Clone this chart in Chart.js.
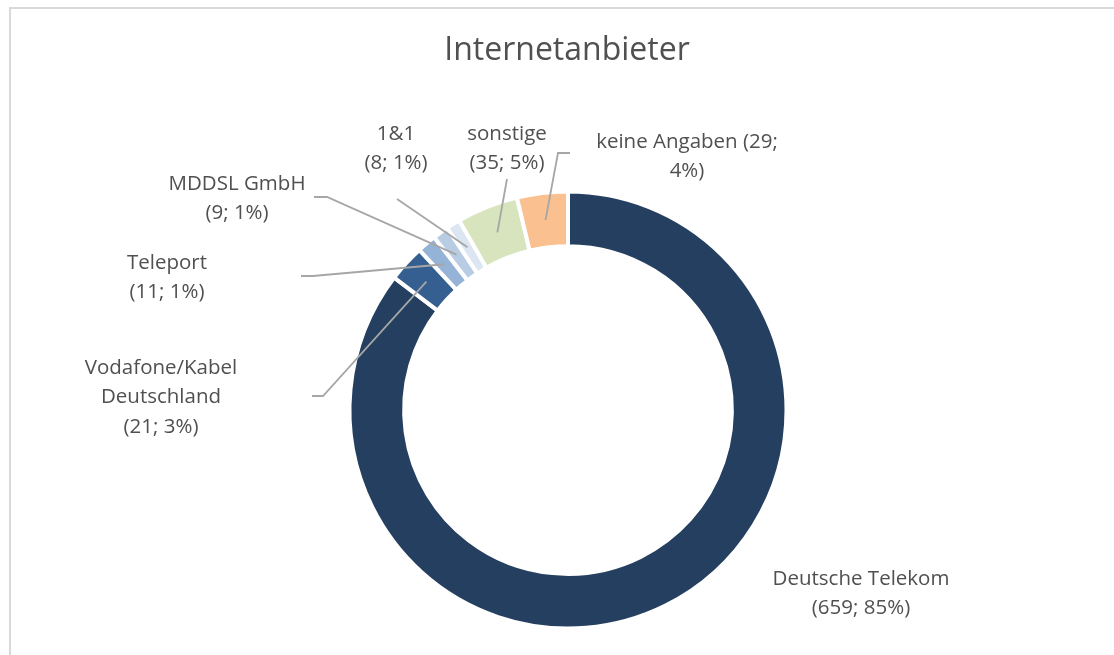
<!DOCTYPE html>
<html>
<head>
<meta charset="utf-8">
<script src="https://cdn.jsdelivr.net/npm/chart.js@4.4.1/dist/chart.umd.min.js"></script>
<style>
  html, body { margin: 0; padding: 0; background: #fff; overflow: hidden; }
  #frame {
    position: absolute; left: 9px; top: 7px; width: 1200px; height: 700px;
    border: 2px solid #d9d9d9; box-sizing: border-box;
  }
  #wrap { position: absolute; left: 0; top: 0; width: 1114px; height: 655px; }
</style>
</head>
<body>
<div id="frame"></div>
<div id="wrap"><canvas id="chart"></canvas></div>
<script>
// Data
const chartTitle = "Internetanbieter";
const providers = [
  "Deutsche Telekom",
  "Vodafone/Kabel Deutschland",
  "Teleport",
  "MDDSL GmbH",
  "1&1",
  "sonstige",
  "keine Angaben",
];
const counts = [659, 21, 11, 9, 8, 35, 29];
const sliceColors = ["#243f60", "#355f91", "#95b3d7", "#b8cce4", "#dce6f2", "#d7e4bd", "#fac090"];

// Label text lines (as Excel wrapped them)
const labelLines = [
  ["Deutsche Telekom", "(659; 85%)"],
  ["Vodafone/Kabel", "Deutschland", "(21; 3%)"],
  ["Teleport", "(11; 1%)"],
  ["MDDSL GmbH", "(9; 1%)"],
  ["1&1", "(8; 1%)"],
  ["sonstige", "(35; 5%)"],
  ["keine Angaben (29;", "4%)"],
];

// Label placement: text centre x, first line y, leader end / elbow
const labelLayout = [
  { x: 861, y: 579, leader: null },
  { x: 161, y: 368, leader: [[323, 396], [312, 396]] },
  { x: 167, y: 263, leader: [[313, 276], [301, 276]] },
  { x: 237, y: 184, leader: [[327, 197], [314, 197]] },
  { x: 396, y: 134, leader: [[397, 199]] },
  { x: 507, y: 134, leader: [[507, 179]] },
  { x: 687, y: 142, leader: [[558, 153], [570, 153]] },
];

const textColor = "#505050";
const lineHeight = 29.5;

// Draws title, data labels and leader lines
const labelPlugin = {
  id: "pieLabels",
  afterDraw(chart) {
    const ctx = chart.ctx;
    const arcs = chart.getDatasetMeta(0).data;
    ctx.save();
    ctx.strokeStyle = "#a6a6a6";
    ctx.lineWidth = 1.8;
    arcs.forEach((arc, i) => {
      const lay = labelLayout[i];
      if (!lay.leader) return;
      const start = arc.tooltipPosition();
      ctx.beginPath();
      ctx.moveTo(start.x, start.y);
      lay.leader.forEach((p) => ctx.lineTo(p[0], p[1]));
      ctx.stroke();
    });
    ctx.fillStyle = textColor;
    ctx.textAlign = "center";
    ctx.textBaseline = "middle";
    ctx.font = "32px 'Open Sans'";
    ctx.fillText(chartTitle, 567, 51);
    ctx.font = "20.5px 'Open Sans'";
    labelLines.forEach((lines, i) => {
      const lay = labelLayout[i];
      lines.forEach((t, k) => ctx.fillText(t, lay.x, lay.y + k * lineHeight));
    });
    ctx.restore();
  },
};

const chart = new Chart(document.getElementById("chart").getContext("2d"), {
  type: "doughnut",
  data: {
    labels: providers,
    datasets: [
      {
        data: counts,
        backgroundColor: sliceColors,
        borderColor: "#ffffff",
        borderWidth: 4,
      },
    ],
  },
  options: {
    responsive: true,
    maintainAspectRatio: false,
    animation: false,
    cutout: "75%",
    layout: { padding: { top: 189.5, bottom: 24.5, left: 22, right: 0 } },
    plugins: {
      legend: { display: false },
      tooltip: { enabled: false },
      title: { display: false },
    },
  },
  plugins: [labelPlugin],
});
</script>
</body>
</html>
